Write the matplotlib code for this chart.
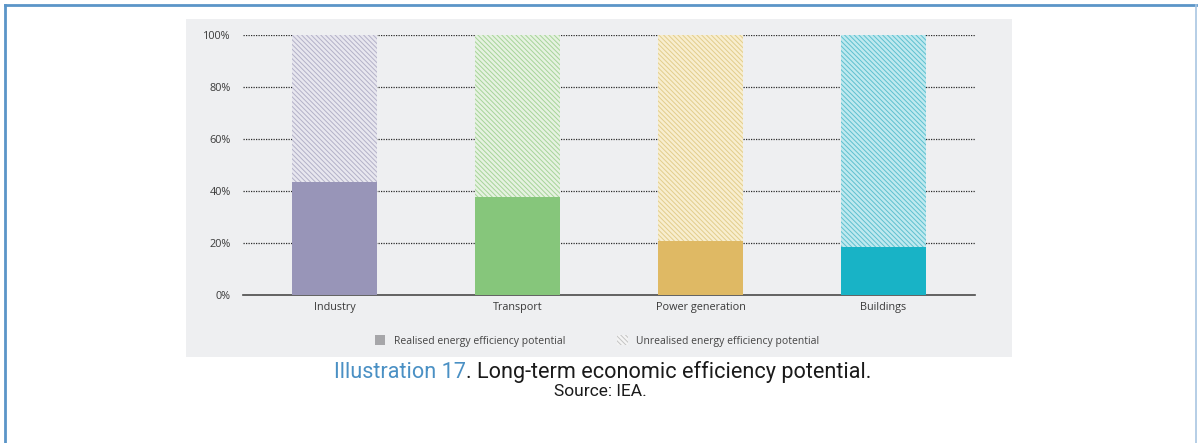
import matplotlib.pyplot as plt
from matplotlib.patches import Rectangle, Patch
from matplotlib.lines import Line2D

plt.rcParams['hatch.linewidth'] = 0.7

# data
sectors = ['Industry', 'Transport', 'Power generation', 'Buildings']
realised = [43.3, 37.8, 20.9, 18.6]
unrealised = [100 - v for v in realised]
y_ticks = [0, 20, 40, 60, 80, 100]

solid_colors = ['#9895b8', '#86c67b', '#dfb964', '#18b3c6']
hatch_faces = ['#e8e7ef', '#e6f2e1', '#f8eecf', '#bfe9ef']
hatch_lines = ['#b3b1c8', '#a6d499', '#e2cd8c', '#5ec0cf']
HATCH = '\\' * 7

W, H = 1198, 443
fig = plt.figure(figsize=(W / 100, H / 100), dpi=100)
fig.patch.set_facecolor('white')

# grey panel behind the chart
fig.add_artist(Rectangle((186 / W, 1 - 357 / H), (1012 - 186) / W, (357 - 19) / H,
                         transform=fig.transFigure, facecolor='#eeeff1',
                         edgecolor='none', zorder=0))

# blue frame around the page block
frame = dict(transform=fig.transFigure, color='#5b95c8', lw=2)
fig.add_artist(Line2D([5 / W, 5 / W], [0, 1 - 5 / H], **frame))
fig.add_artist(Line2D([5 / W, 1196 / W], [1 - 5 / H, 1 - 5 / H], **frame))
fig.add_artist(Line2D([1196 / W, 1196 / W], [0, 1 - 5 / H], transform=fig.transFigure,
                      color='#a9c6e2', lw=1.2))

ax = fig.add_axes([243 / W, 1 - 295 / H, (975 - 243) / W, 260 / H])
ax.set_facecolor('none')
x = range(len(sectors))
width = 0.46

ax.bar(x, realised, width=width, color=solid_colors, zorder=3)
for i in x:
    ax.bar(i, unrealised[i], bottom=realised[i], width=width, color=hatch_faces[i],
           edgecolor=hatch_lines[i], linewidth=0, hatch=HATCH, zorder=3)

ax.set_xlim(-0.5, 3.5)
ax.set_ylim(0, 100)
ax.set_yticks(y_ticks)
ax.set_yticklabels([f'{v}%' for v in y_ticks])
ax.set_xticks(list(x))
ax.set_xticklabels(sectors)
ax.tick_params(axis='y', length=0, pad=9, labelsize=7.8, labelcolor='#3a3a3a')
ax.tick_params(axis='x', length=0, pad=5, labelsize=7.8, labelcolor='#3a3a3a')
for lab in ax.get_xticklabels() + ax.get_yticklabels():
    lab.set_family('Open Sans')

for v in y_ticks[1:]:
    ax.axhline(v, color='#2a2a2a', lw=0.9, ls=(0, (1, 1)), zorder=1)
for s in ['top', 'right', 'left']:
    ax.spines[s].set_visible(False)
ax.spines['bottom'].set_color('#4a4a4a')
ax.spines['bottom'].set_linewidth(1.2)

handles = [Patch(facecolor='#a6a6a9', edgecolor='none'),
           Patch(facecolor='#f4f4f4', edgecolor='#c4c4c4', linewidth=0, hatch=HATCH)]
leg = fig.legend(handles, ['Realised energy efficiency potential',
                           'Unrealised energy efficiency potential'],
                 loc='center', bbox_to_anchor=(597 / W, 1 - 341 / H), ncol=2,
                 frameon=False, handlelength=1.0, handleheight=1.0,
                 handletextpad=0.8, columnspacing=5.0,
                 prop={'family': 'Open Sans', 'size': 7.5})
for t in leg.get_texts():
    t.set_color('#444444')

# caption
cax = fig.add_axes([0, 0, 1, 1])
cax.axis('off')
cax.set_xlim(0, W)
cax.set_ylim(H, 0)
blue = cax.text(334, 372, 'Illustration 17', color='#4a90c4', fontsize=15.6,
                family='Roboto', ha='left', va='center')
cax.annotate('. Long-term economic efficiency potential.', xy=(1, 0.5),
             xycoords=blue, va='center', ha='left', fontsize=15.6, family='Roboto',
             color='#1a1a1a')
cax.text(600, 392, 'Source: IEA.', ha='center', va='center', fontsize=12.5,
         family='Roboto', color='#1a1a1a')

fig.savefig('out.png', dpi=100)
